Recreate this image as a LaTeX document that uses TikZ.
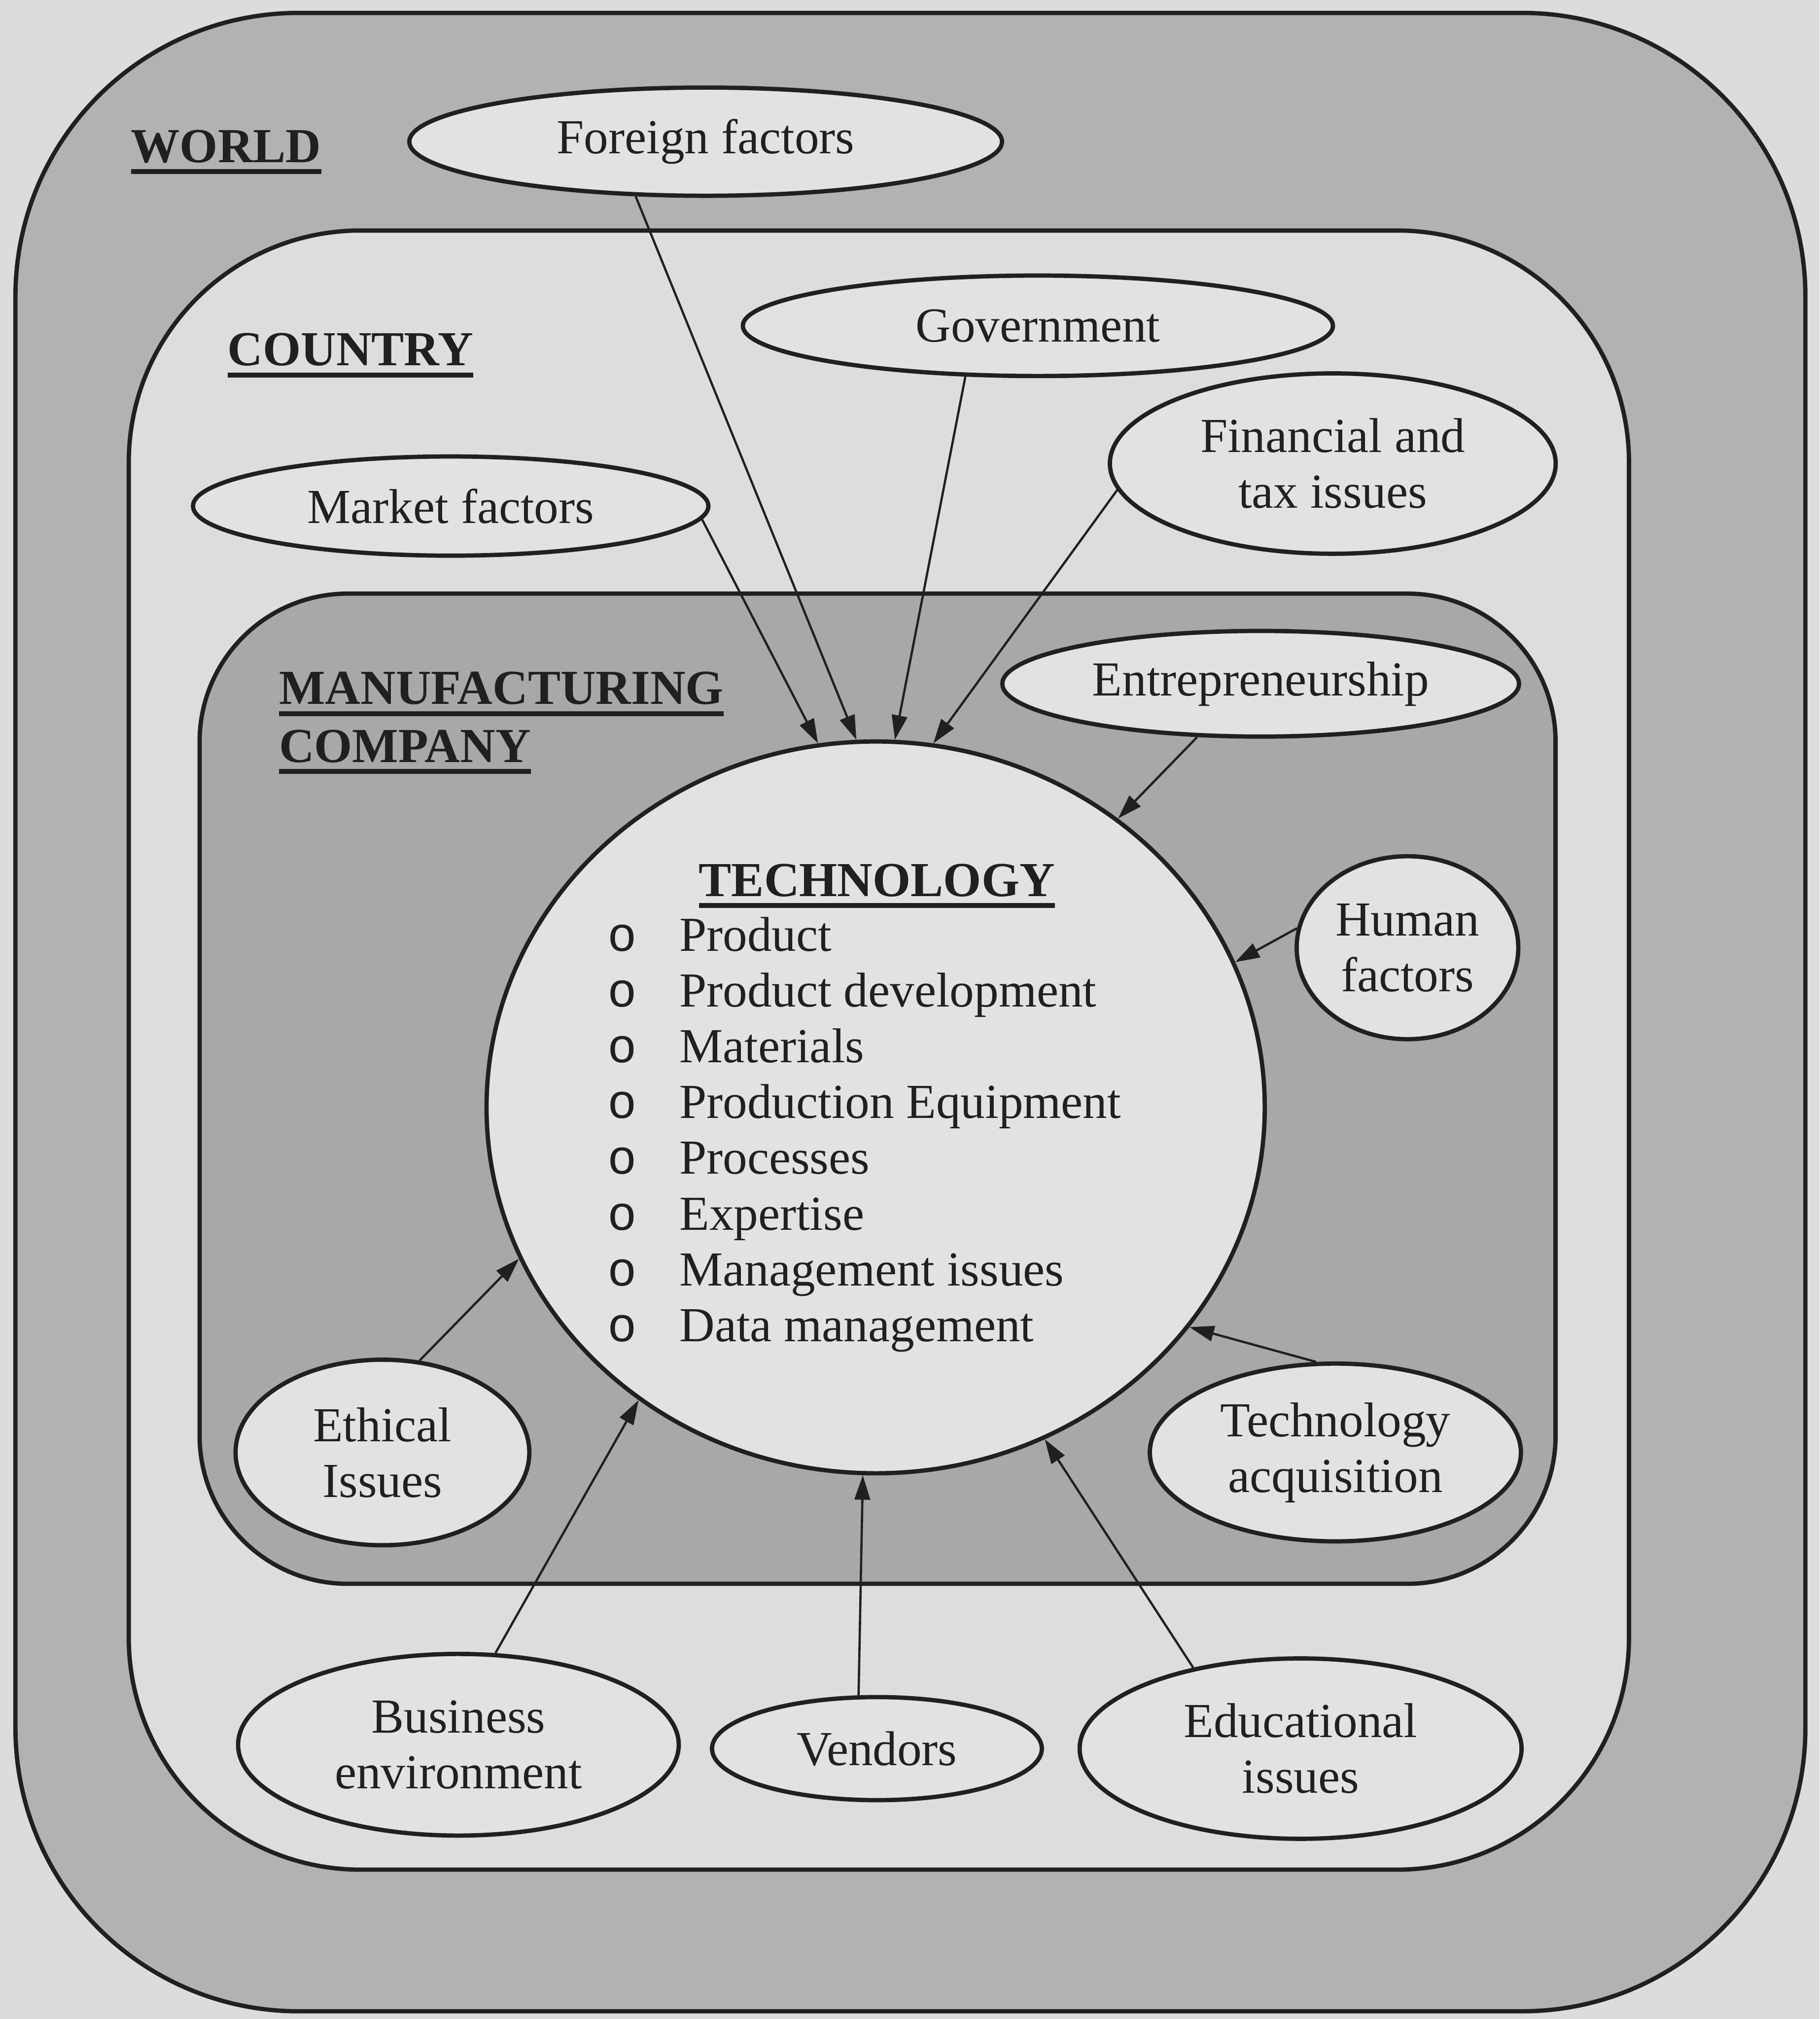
\documentclass[tikz,border=0pt]{standalone}
\usepackage{fontspec}
\setmainfont{Liberation Serif}
\newfontfamily\bulletfont{Liberation Mono}
\usepackage{tikz}
\usetikzlibrary{shapes.geometric,arrows.meta}

\definecolor{paper}{HTML}{DCDCDC}
\definecolor{worldgray}{HTML}{B2B2B2}
\definecolor{countrygray}{HTML}{DDDDDD}
\definecolor{firmgray}{HTML}{A8A8A8}
\definecolor{bubble}{HTML}{E2E2E2}
\definecolor{ink}{HTML}{202020}

% underlined heading with a heavier rule
\newsavebox\headbox
\newcommand{\headline}[1]{\sbox\headbox{#1}\rlap{\raisebox{-2.6pt}{\rule{\wd\headbox}{1.1pt}}}\usebox\headbox}

\begin{document}
\begin{tikzpicture}[x=0.01cm, y=-0.01cm,
  factor/.style={ellipse, draw=ink, line width=0.95pt, fill=bubble, inner sep=0pt,
    align=center, text=ink, font=\fontsize{10.8}{12.3}\selectfont},
  title/.style={anchor=base west, inner sep=0pt, text=ink,
    font=\fontsize{10.8}{12.3}\selectfont\bfseries},
  item/.style={anchor=base west, inner sep=0pt, text=ink,
    font=\fontsize{10.8}{12.3}\selectfont},
  feed/.style={-{Triangle[length=1.9mm,width=1.2mm]}, line width=0.5pt, draw=ink}]

  % Page
  \fill[paper] (0,0) rectangle (1413,1568);
  \useasboundingbox (0,0) rectangle (1413,1568);

  % Nested regions
  \filldraw[fill=worldgray, draw=ink, line width=0.95pt, rounded corners=2.2cm]
    (12,10) rectangle (1402,1562);
  \filldraw[fill=countrygray, draw=ink, line width=0.95pt, rounded corners=1.8cm]
    (100,179) rectangle (1265,1452);
  \filldraw[fill=firmgray, draw=ink, line width=0.95pt, rounded corners=1.15cm]
    (155,461) rectangle (1208,1230);

  % Technology core
  \node[ellipse, draw=ink, line width=0.95pt, fill=bubble, inner sep=0pt,
    minimum width=6.04cm, minimum height=5.68cm] (tech) at (680,860) {};

  % Factors
  \node[factor, minimum width=4.60cm, minimum height=0.84cm] (foreign) at (548,110) {Foreign factors};
  \node[factor, minimum width=4.58cm, minimum height=0.78cm] (govt) at (806,253) {Government};
  \node[factor, minimum width=3.46cm, minimum height=1.40cm] (finance) at (1035,360) {Financial and\\tax issues};
  \node[factor, minimum width=4.00cm, minimum height=0.77cm] (market) at (350,393) {Market factors};
  \node[factor, minimum width=4.01cm, minimum height=0.82cm] (entre) at (979,531) {Entrepreneurship};
  \node[factor, minimum width=1.72cm, minimum height=1.42cm] (human) at (1093,736) {Human\\factors};
  \node[factor, minimum width=2.28cm, minimum height=1.44cm] (ethical) at (297,1128) {Ethical\\Issues};
  \node[factor, minimum width=2.88cm, minimum height=1.38cm] (acquisition) at (1037,1128) {Technology\\acquisition};
  \node[factor, minimum width=3.42cm, minimum height=1.41cm] (business) at (356,1355) {Business\\environment};
  \node[factor, minimum width=2.56cm, minimum height=0.80cm] (vendors) at (681,1358) {Vendors};
  \node[factor, minimum width=3.43cm, minimum height=1.40cm] (education) at (1010,1358) {Educational\\issues};

  % Influences on technology
  \draw[feed] (market.-3) -- (tech.99);
  \draw[feed] (foreign.-142) -- (tech.93.4);
  \draw[feed] (govt.-145) -- (tech.87.4);
  \draw[feed] (finance.187) -- (tech.81.4);
  \draw[feed] (entre.-140) -- (tech.50.4);
  \draw[feed] (human.170) -- (tech.22.4);
  \draw[feed] (acquisition.102) -- (tech.-35);
  \draw[feed] (education.143) -- (tech.-63.4);
  \draw[feed] (vendors.109) -- (tech.-92.6);
  \draw[feed] (business.68) -- (tech.-129.6);
  \draw[feed] (ethical.68.5) -- (tech.-157);

  % Region titles
  \node[title] (world) at (101,126) {\headline{WORLD}};
  \node[title] (country) at (176,284) {\headline{COUNTRY}};
  \node[title] (manuf) at (216,547) {\headline{MANUFACTURING}};
  \node[title] (company) at (216,592) {\headline{COMPANY}};
  \node[title] (techtitle) at (542,696) {\headline{TECHNOLOGY}};

  % Technology elements
  \foreach \txt [count=\i] in {Product, Product development, Materials,
      Production Equipment, Processes, Expertise, Management issues, Data management}
    \node[item] (item\i) at (527,695.3+43.3*\i) {\llap{\bulletfont o\hspace{0.33cm}}\txt};
\end{tikzpicture}
\end{document}
